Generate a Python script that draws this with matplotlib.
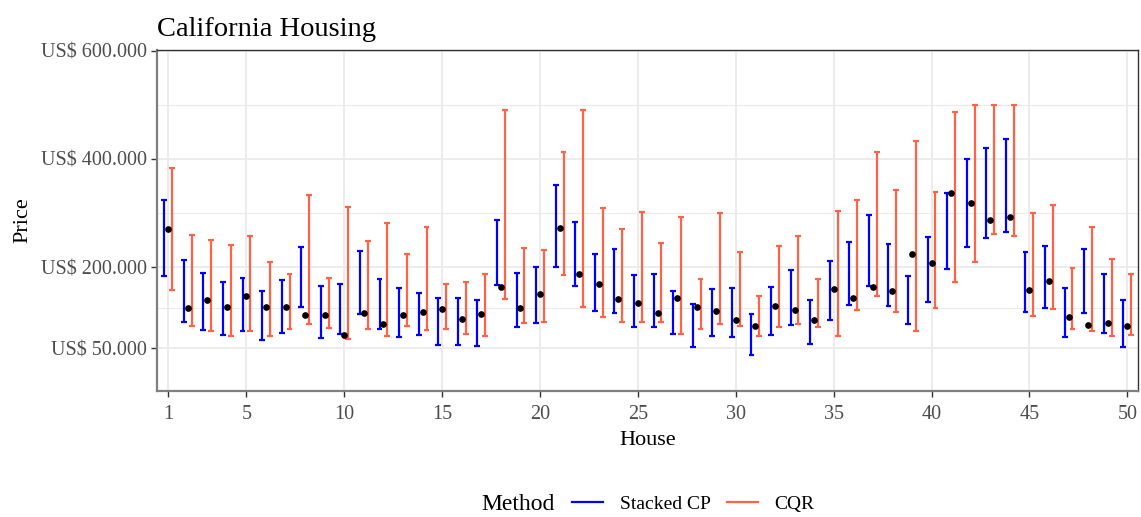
import numpy as np
import matplotlib
matplotlib.use("Agg")
from matplotlib import pyplot as plt
from matplotlib.lines import Line2D

plt.rcParams['font.family'] = ['Liberation Serif', 'DejaVu Serif']

# data
houses = np.arange(1, 51)
cp_lower = [184200, 99200, 83900, 74000, 81400, 64800, 79000, 125800, 69000, 75900,
            113000, 85200, 70300, 74000, 56700, 56100, 54300, 167600, 89500, 97000,
            200300, 165500, 119500, 115800, 89500, 89500, 75900, 52400, 72700, 71400,
            38800, 74000, 93800, 57400, 103100, 129400, 165500, 128200, 95700, 135600,
            196000, 236600, 253500, 265000, 117100, 124500, 70300, 115800, 79100, 53000]
cp_upper = [324200, 212700, 188700, 172000, 180500, 156500, 176300, 237800, 164600, 168900,
            230400, 178100, 160900, 151700, 143000, 143000, 139300, 286700, 190000, 201200,
            352500, 283800, 224300, 234100, 186300, 188200, 155900, 131900, 160100, 161400,
            113400, 163200, 194300, 139300, 211700, 246500, 296200, 242800, 183200, 255800,
            337700, 400600, 420300, 437000, 227500, 239600, 162100, 233600, 187600, 139900]
cqr_lower = [157800, 91200, 81900, 72700, 82500, 72700, 85800, 94900, 87500, 67800,
             85200, 72700, 91800, 83900, 86300, 76900, 72700, 142100, 97600, 98800,
             185000, 127200, 108400, 98800, 98800, 98800, 76900, 86300, 95700, 91200,
             72700, 90000, 95700, 90000, 72700, 120900, 147600, 117100, 81600, 124800,
             173000, 208900, 260900, 257600, 110300, 122600, 86300, 81800, 73500, 74800]
cqr_upper = [383400, 259500, 250300, 240900, 258200, 209000, 188100, 334000, 180500, 311800,
             248800, 282200, 224900, 274300, 168900, 172000, 187600, 489500, 236000, 232300,
             412900, 489500, 310000, 270600, 301700, 244000, 291800, 178100, 299800, 227500,
             146700, 239600, 258200, 178100, 304200, 324400, 412300, 342200, 433900, 339600,
             485800, 499800, 499800, 499800, 299800, 315600, 198200, 274900, 215300, 187600]
true_price = [270000, 123900, 138700, 126400, 146100, 126400, 126900, 112100, 111000, 74000,
              115000, 96000, 112100, 117700, 122000, 105300, 113300, 163900, 124500, 149800,
              272500, 187200, 169700, 140500, 133800, 115100, 142400, 126400, 119000, 102300,
              91800, 128200, 120900, 101800, 159000, 142900, 163200, 155900, 225000, 207500,
              336400, 318000, 286900, 293600, 157200, 175200, 107300, 93300, 97600, 90800]

y_breaks = [50000, 200000, 400000, 600000]
y_labels = ["US$ 50.000", "US$ 200.000", "US$ 400.000", "US$ 600.000"]
x_breaks = [1, 5, 10, 15, 20, 25, 30, 35, 40, 45, 50]

blue = "#0000FF"
orange = "#FF6347"
dodge = 0.2
capw = 0.15

fig = plt.figure(figsize=(11.41, 5.17), dpi=100)
ax = fig.add_axes([0.1376, 0.2443, 0.8598, 0.6584])

for lo, hi, col, off in [(cp_lower, cp_upper, blue, -dodge), (cqr_lower, cqr_upper, orange, dodge)]:
    xs = houses + off
    ax.vlines(xs, lo, hi, color=col, lw=1.6, zorder=3)
    ax.hlines(lo, xs - capw, xs + capw, color=col, lw=1.6, zorder=3)
    ax.hlines(hi, xs - capw, xs + capw, color=col, lw=1.6, zorder=3)

ax.plot(houses, true_price, "o", color="black", ms=3.8, zorder=4)

ax.set_xlim(0.43, 50.55)
ax.set_ylim(-28000, 600500)
ax.set_xticks(x_breaks)
ax.set_yticks(y_breaks)
ax.set_yticklabels(y_labels)
ax.set_yticks([125000, 300000, 500000], minor=True)
ax.tick_params(axis="both", which="major", labelsize=14.5, colors="#333333",
               labelcolor="#4D4D4D", length=4, width=1)
ax.tick_params(axis="x", which="major", pad=6)
ax.tick_params(axis="y", which="minor", length=0)
ax.grid(True, which="major", color="#EBEBEB", lw=1.3)
ax.grid(True, which="minor", axis="y", color="#EBEBEB", lw=0.8)
ax.set_axisbelow(True)
for s in ax.spines.values():
    s.set_color("#333333")
    s.set_linewidth(1)
for s in ("left", "bottom"):
    ax.spines[s].set_color("#7F7F7F")
    ax.spines[s].set_linewidth(1.6)

ax.set_xlabel("House", fontsize=16, labelpad=5)
ax.set_ylabel("Price", fontsize=16, labelpad=6)
ax.set_title("California Housing", fontsize=20.5, loc="left", pad=10)

fig.text(481 / 1141, 1 - 505 / 517, "Method", fontsize=17, va="center", ha="left")
handles = [Line2D([], [], color=blue, lw=1.6), Line2D([], [], color=orange, lw=1.6)]
fig.legend(handles, ["Stacked CP", "CQR"], ncol=2, frameon=False, fontsize=14,
           loc="center left", bbox_to_anchor=(572 / 1141, 1 - 504 / 517),
           borderaxespad=0, borderpad=0, handlelength=1.6, handletextpad=0.85,
           columnspacing=0.85)

fig.savefig("out.png", dpi=100)
